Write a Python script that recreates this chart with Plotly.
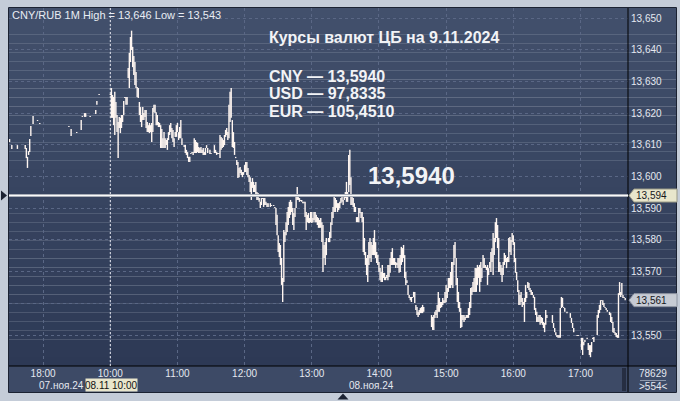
import plotly.graph_objects as go

# ---------------- data ----------------
instrument = "CNY/RUB"
timeframe = "1M"
high_of_period = 13.646
low_of_period = 13.543

cb_date = "9.11.2024"
cb_codes = ["CNY", "USD", "EUR"]
cb_rates = [13.5940, 97.8335, 105.4510]

last_price = 13.561
counter_top = "78629"
counter_bottom = ">554<"

day1_label = "07.ноя.24"
day2_label = "08.ноя.24"
cursor_label = "08.11 10:00"

# session of 07.11 shown: 17:30-19:00, session of 08.11: 10:00-
day1_start = "17:30"
day1_end = "19:00"
day2_start = "10:00"

day1_times = ["17:30", "17:32", "17:37", "17:44", "17:45", "17:46", "17:47", "17:48", "17:49", "17:51",
              "17:55", "17:57", "18:23", "18:25", "18:30", "18:34", "18:35", "18:37", "18:38", "18:42",
              "18:47", "18:48", "18:50"]
day1_high = [13.6118, 13.6099, 13.6099, 13.6099, 13.6090, 13.6062, 13.6080, 13.6118, 13.6159, 13.6191,
             13.6178, 13.6169, 13.6159, 13.6150, 13.6140, 13.6178, 13.6191, 13.6200, 13.6200, 13.6191,
             13.6210, 13.6238, 13.6260]
day1_low = [13.6109, 13.6087, 13.6087, 13.6087, 13.6058, 13.6027, 13.6068, 13.6077, 13.6128, 13.6166,
            13.6175, 13.6166, 13.6156, 13.6128, 13.6137, 13.6147, 13.6188, 13.6188, 13.6188, 13.6188,
            13.6197, 13.6226, 13.6257]

day2_times = [
    # 10:00 - 10:59
    "10:00", "10:01", "10:02", "10:03", "10:04", "10:05", "10:06", "10:07", "10:08", "10:09",
    "10:10", "10:11", "10:12", "10:13", "10:14", "10:15", "10:16", "10:17", "10:18", "10:19",
    "10:20", "10:21", "10:22", "10:23", "10:24", "10:25", "10:26", "10:27", "10:28", "10:29",
    "10:30", "10:31", "10:32", "10:33", "10:34", "10:35", "10:36", "10:37", "10:38", "10:39",
    "10:40", "10:41", "10:42", "10:43", "10:44", "10:45", "10:46", "10:47", "10:48", "10:49",
    "10:50", "10:51", "10:52", "10:53", "10:54", "10:55", "10:56", "10:57", "10:58", "10:59",
    # 11:00 - 11:59
    "11:00", "11:01", "11:02", "11:03", "11:04", "11:06", "11:07", "11:08", "11:09", "11:10",
    "11:11", "11:12", "11:13", "11:14", "11:15", "11:16", "11:17", "11:18", "11:19", "11:20",
    "11:21", "11:22", "11:23", "11:24", "11:25", "11:26", "11:27", "11:29", "11:30", "11:33",
    "11:34", "11:35", "11:36", "11:37", "11:38", "11:39", "11:40", "11:41", "11:42", "11:43",
    "11:44", "11:45", "11:46", "11:47", "11:48", "11:49", "11:50", "11:51", "11:52", "11:53",
    "11:54", "11:55", "11:56", "11:57", "11:58", "11:59",
    # 12:00 - 12:59
    "12:00", "12:01", "12:02", "12:03", "12:04", "12:05", "12:06", "12:07", "12:08", "12:09",
    "12:10", "12:11", "12:12", "12:13", "12:14", "12:15", "12:16", "12:17", "12:18", "12:19",
    "12:20", "12:21", "12:23", "12:24", "12:26", "12:27", "12:28", "12:29", "12:30", "12:31",
    "12:32", "12:33", "12:34", "12:35", "12:36", "12:37", "12:38", "12:39", "12:40", "12:41",
    "12:42", "12:43", "12:44", "12:45", "12:46", "12:47", "12:48", "12:49", "12:50", "12:51",
    "12:52", "12:53", "12:54", "12:55", "12:56", "12:57", "12:58", "12:59",
    # 13:00 - 13:59
    "13:00", "13:01", "13:02", "13:03", "13:04", "13:05", "13:06", "13:07", "13:08", "13:09",
    "13:10", "13:11", "13:12", "13:13", "13:15", "13:16", "13:17", "13:18", "13:19", "13:20",
    "13:21", "13:22", "13:23", "13:24", "13:25", "13:26", "13:27", "13:28", "13:29", "13:30",
    "13:31", "13:32", "13:33", "13:34", "13:35", "13:36", "13:37", "13:38", "13:39", "13:40",
    "13:41", "13:42", "13:43", "13:44", "13:45", "13:46", "13:47", "13:48", "13:49", "13:50",
    "13:51", "13:52", "13:53", "13:54", "13:55", "13:56", "13:57", "13:58", "13:59",
    # 14:00 - 14:59
    "14:00", "14:01", "14:02", "14:03", "14:04", "14:05", "14:06", "14:07", "14:08", "14:09",
    "14:10", "14:11", "14:12", "14:13", "14:14", "14:15", "14:16", "14:17", "14:18", "14:19",
    "14:20", "14:21", "14:22", "14:23", "14:24", "14:25", "14:26", "14:27", "14:28", "14:29",
    "14:30", "14:31", "14:32", "14:33", "14:34", "14:35", "14:36", "14:37", "14:38", "14:39",
    "14:40", "14:47", "14:48", "14:49", "14:50", "14:51", "14:52", "14:53", "14:54", "14:55",
    "14:56", "14:57", "14:58", "14:59",
    # 15:00 - 15:59
    "15:00", "15:01", "15:02", "15:03", "15:04", "15:05", "15:06", "15:07", "15:08", "15:09",
    "15:10", "15:11", "15:12", "15:13", "15:14", "15:15", "15:16", "15:17", "15:18", "15:19",
    "15:20", "15:21", "15:22", "15:23", "15:24", "15:25", "15:26", "15:27", "15:28", "15:29",
    "15:30", "15:31", "15:32", "15:33", "15:34", "15:35", "15:36", "15:37", "15:38", "15:39",
    "15:40", "15:41", "15:42", "15:43", "15:44", "15:45", "15:46", "15:47", "15:48", "15:49",
    "15:50", "15:51", "15:52", "15:53", "15:54", "15:55", "15:56", "15:57", "15:58", "15:59",
    # 16:00 - 16:59
    "16:00", "16:01", "16:02", "16:03", "16:04", "16:05", "16:06", "16:07", "16:08", "16:09",
    "16:10", "16:11", "16:12", "16:13", "16:14", "16:15", "16:16", "16:17", "16:18", "16:19",
    "16:20", "16:21", "16:22", "16:23", "16:24", "16:25", "16:26", "16:27", "16:28", "16:29",
    "16:30", "16:35", "16:36", "16:37", "16:38", "16:39", "16:40", "16:41", "16:42", "16:43",
    "16:44", "16:45", "16:46", "16:48", "16:51", "16:52", "16:53", "16:54", "16:57", "16:58",
    # 17:00 - 17:40
    "17:01", "17:02", "17:03", "17:04", "17:06", "17:07", "17:08", "17:09", "17:10", "17:11",
    "17:12", "17:15", "17:16", "17:17", "17:18", "17:19", "17:20", "17:21", "17:22", "17:23",
    "17:24", "17:26", "17:27", "17:28", "17:29", "17:30", "17:31", "17:32", "17:33", "17:34",
    "17:35", "17:36", "17:37", "17:38", "17:39", "17:40",
]
day2_high = [
    13.6260, 13.6279, 13.6257, 13.6251, 13.6267, 13.6235, 13.6194, 13.6172, 13.6188, 13.6185,
    13.6194, 13.6194, 13.6238, 13.6251, 13.6251, 13.6251, 13.6342, 13.6390, 13.6440, 13.6460,
    13.6409, 13.6380, 13.6361, 13.6330, 13.6282, 13.6279, 13.6235, 13.6219, 13.6194, 13.6219,
    13.6200, 13.6210, 13.6210, 13.6172, 13.6162, 13.6169, 13.6162, 13.6169, 13.6216, 13.6226,
    13.6226, 13.6203, 13.6194, 13.6172, 13.6169, 13.6162, 13.6150, 13.6121, 13.6140, 13.6121,
    13.6115, 13.6121, 13.6140, 13.6162, 13.6169, 13.6153, 13.6147, 13.6121, 13.6140, 13.6162,
    # 11
    13.6169, 13.6140, 13.6156, 13.6178, 13.6121, 13.6099, 13.6099, 13.6084, 13.6077, 13.6062,
    13.6062, 13.6074, 13.6077, 13.6077, 13.6121, 13.6115, 13.6109, 13.6106, 13.6093, 13.6090,
    13.6093, 13.6084, 13.6090, 13.6077, 13.6090, 13.6099, 13.6090, 13.6084, 13.6074, 13.6099,
    13.6084, 13.6077, 13.6074, 13.6074, 13.6131, 13.6125, 13.6121, 13.6115, 13.6131, 13.6147,
    13.6153, 13.6140, 13.6226, 13.6267, 13.6279, 13.6178, 13.6140, 13.6109, 13.6062, 13.6052,
    13.6046, 13.6027, 13.6030, 13.6021, 13.6014, 13.6014,
    # 12
    13.6036, 13.6046, 13.6046, 13.6027, 13.6005, 13.5998, 13.5983, 13.5995, 13.5983, 13.5973,
    13.5983, 13.5951, 13.5948, 13.5932, 13.5920, 13.5932, 13.5932, 13.5932, 13.5932, 13.5920,
    13.5916, 13.5916, 13.5916, 13.5910, 13.5910, 13.5904, 13.5901, 13.5879, 13.5815, 13.5790,
    13.5784, 13.5743, 13.5680, 13.5831, 13.5825, 13.5856, 13.5888, 13.5904, 13.5920, 13.5926,
    13.5920, 13.5901, 13.5885, 13.5901, 13.5942, 13.5967, 13.5935, 13.5932, 13.5926, 13.5926,
    13.5920, 13.5920, 13.5920, 13.5888, 13.5879, 13.5885, 13.5869, 13.5888,
    # 13
    13.5888, 13.5869, 13.5888, 13.5888, 13.5879, 13.5872, 13.5869, 13.5863, 13.5869, 13.5856,
    13.5847, 13.5784, 13.5793, 13.5806, 13.5806, 13.5825, 13.5856, 13.5888, 13.5904, 13.5935,
    13.5932, 13.5926, 13.5916, 13.5916, 13.5920, 13.5932, 13.5935, 13.5926, 13.5935, 13.5951,
    13.5983, 13.5951, 13.6068, 13.6084, 13.5998, 13.5942, 13.5932, 13.5916, 13.5904, 13.5872,
    13.5872, 13.5901, 13.5901, 13.5888, 13.5888, 13.5872, 13.5806, 13.5762, 13.5743, 13.5752,
    13.5793, 13.5806, 13.5793, 13.5784, 13.5806, 13.5831, 13.5793, 13.5762, 13.5752,
    # 14
    13.5730, 13.5711, 13.5699, 13.5721, 13.5696, 13.5696, 13.5683, 13.5689, 13.5721, 13.5721,
    13.5743, 13.5762, 13.5774, 13.5743, 13.5743, 13.5730, 13.5727, 13.5743, 13.5743, 13.5752,
    13.5778, 13.5774, 13.5784, 13.5752, 13.5699, 13.5673, 13.5658, 13.5626, 13.5620, 13.5620,
    13.5620, 13.5636, 13.5636, 13.5595, 13.5588, 13.5573, 13.5579, 13.5585, 13.5588, 13.5595,
    13.5588, 13.5563, 13.5557, 13.5563, 13.5573, 13.5579, 13.5595, 13.5636, 13.5617, 13.5604,
    13.5604, 13.5617, 13.5610, 13.5636,
    # 15
    13.5658, 13.5648, 13.5680, 13.5680, 13.5699, 13.5730, 13.5730, 13.5784, 13.5793, 13.5743,
    13.5680, 13.5636, 13.5604, 13.5585, 13.5563, 13.5563, 13.5563, 13.5557, 13.5563, 13.5563,
    13.5585, 13.5604, 13.5648, 13.5651, 13.5667, 13.5680, 13.5711, 13.5711, 13.5721, 13.5715,
    13.5721, 13.5730, 13.5711, 13.5752, 13.5743, 13.5721, 13.5715, 13.5721, 13.5711, 13.5730,
    13.5762, 13.5774, 13.5822, 13.5806, 13.5856, 13.5869, 13.5847, 13.5806, 13.5730, 13.5721,
    13.5711, 13.5730, 13.5759, 13.5752, 13.5743, 13.5746, 13.5806, 13.5809, 13.5800, 13.5822,
    # 16
    13.5815, 13.5793, 13.5743, 13.5699, 13.5673, 13.5642, 13.5626, 13.5636, 13.5617, 13.5604,
    13.5617, 13.5658, 13.5636, 13.5667, 13.5664, 13.5648, 13.5642, 13.5636, 13.5626, 13.5620,
    13.5585, 13.5573, 13.5557, 13.5563, 13.5563, 13.5557, 13.5554, 13.5541, 13.5538, 13.5579,
    13.5563, 13.5563, 13.5538, 13.5522, 13.5509, 13.5500, 13.5500, 13.5500, 13.5585, 13.5620,
    13.5617, 13.5588, 13.5585, 13.5573, 13.5569, 13.5554, 13.5538, 13.5522, 13.5500, 13.5500,
    # 17
    13.5491, 13.5491, 13.5478, 13.5484, 13.5491, 13.5475, 13.5468, 13.5468, 13.5478, 13.5491,
    13.5494, 13.5563, 13.5579, 13.5595, 13.5610, 13.5610, 13.5610, 13.5601, 13.5588, 13.5585,
    13.5579, 13.5573, 13.5569, 13.5557, 13.5541, 13.5522, 13.5509, 13.5506, 13.5500, 13.5632,
    13.5667, 13.5636, 13.5664, 13.5626, 13.5620, 13.5617,
]
day2_low = [
    13.6257, 13.6185, 13.6185, 13.6162, 13.6131, 13.6185, 13.6140, 13.6058, 13.6153, 13.6137,
    13.6153, 13.6172, 13.6194, 13.6248, 13.6226, 13.6226, 13.6311, 13.6279, 13.6361, 13.6399,
    13.6345, 13.6320, 13.6289, 13.6279, 13.6251, 13.6248, 13.6194, 13.6172, 13.6156, 13.6178,
    13.6178, 13.6188, 13.6153, 13.6140, 13.6140, 13.6137, 13.6140, 13.6109, 13.6140, 13.6203,
    13.6200, 13.6162, 13.6162, 13.6156, 13.6156, 13.6090, 13.6090, 13.6090, 13.6090, 13.6090,
    13.6099, 13.6084, 13.6115, 13.6131, 13.6140, 13.6121, 13.6109, 13.6093, 13.6125, 13.6125,
    # 11
    13.6140, 13.6115, 13.6121, 13.6121, 13.6099, 13.6093, 13.6074, 13.6068, 13.6058, 13.6046,
    13.6046, 13.6071, 13.6074, 13.6068, 13.6074, 13.6074, 13.6074, 13.6077, 13.6074, 13.6074,
    13.6074, 13.6074, 13.6068, 13.6068, 13.6068, 13.6090, 13.6074, 13.6071, 13.6071, 13.6074,
    13.6074, 13.6068, 13.6071, 13.6071, 13.6058, 13.6084, 13.6090, 13.6093, 13.6099, 13.6125,
    13.6131, 13.6115, 13.6121, 13.6172, 13.6185, 13.6093, 13.6090, 13.6068, 13.6058, 13.6036,
    13.5995, 13.5998, 13.6011, 13.6005, 13.5998, 13.6005,
    # 12
    13.6014, 13.6014, 13.6005, 13.5998, 13.5983, 13.5951, 13.5926, 13.5964, 13.5951, 13.5951,
    13.5942, 13.5926, 13.5926, 13.5920, 13.5901, 13.5910, 13.5929, 13.5904, 13.5910, 13.5910,
    13.5904, 13.5904, 13.5904, 13.5907, 13.5907, 13.5901, 13.5847, 13.5815, 13.5762, 13.5746,
    13.5721, 13.5658, 13.5604, 13.5667, 13.5793, 13.5815, 13.5825, 13.5847, 13.5869, 13.5879,
    13.5888, 13.5847, 13.5831, 13.5872, 13.5901, 13.5926, 13.5926, 13.5920, 13.5923, 13.5920,
    13.5916, 13.5916, 13.5872, 13.5831, 13.5856, 13.5853, 13.5853, 13.5856,
    # 13
    13.5853, 13.5856, 13.5863, 13.5856, 13.5856, 13.5847, 13.5838, 13.5838, 13.5838, 13.5793,
    13.5699, 13.5743, 13.5721, 13.5752, 13.5793, 13.5793, 13.5806, 13.5847, 13.5869, 13.5888,
    13.5888, 13.5901, 13.5888, 13.5894, 13.5901, 13.5916, 13.5920, 13.5910, 13.5926, 13.5932,
    13.5920, 13.5920, 13.5951, 13.5973, 13.5910, 13.5910, 13.5904, 13.5888, 13.5888, 13.5856,
    13.5856, 13.5856, 13.5885, 13.5869, 13.5856, 13.5762, 13.5752, 13.5721, 13.5689, 13.5667,
    13.5721, 13.5743, 13.5730, 13.5752, 13.5752, 13.5752, 13.5743, 13.5727, 13.5721,
    # 14
    13.5699, 13.5673, 13.5667, 13.5667, 13.5680, 13.5673, 13.5673, 13.5680, 13.5673, 13.5683,
    13.5696, 13.5721, 13.5721, 13.5721, 13.5721, 13.5711, 13.5721, 13.5711, 13.5696, 13.5699,
    13.5721, 13.5730, 13.5743, 13.5680, 13.5658, 13.5664, 13.5626, 13.5617, 13.5610, 13.5604,
    13.5617, 13.5620, 13.5601, 13.5579, 13.5563, 13.5557, 13.5563, 13.5569, 13.5569, 13.5569,
    13.5573, 13.5525, 13.5516, 13.5516, 13.5554, 13.5563, 13.5554, 13.5573, 13.5573, 13.5585,
    13.5588, 13.5595, 13.5601, 13.5601,
    # 15
    13.5604, 13.5617, 13.5636, 13.5648, 13.5648, 13.5658, 13.5648, 13.5721, 13.5743, 13.5658,
    13.5604, 13.5585, 13.5573, 13.5522, 13.5525, 13.5547, 13.5541, 13.5547, 13.5554, 13.5554,
    13.5554, 13.5563, 13.5585, 13.5626, 13.5636, 13.5636, 13.5636, 13.5636, 13.5658, 13.5680,
    13.5636, 13.5667, 13.5680, 13.5711, 13.5711, 13.5711, 13.5705, 13.5658, 13.5689, 13.5711,
    13.5699, 13.5730, 13.5689, 13.5752, 13.5793, 13.5806, 13.5774, 13.5699, 13.5699, 13.5689,
    13.5667, 13.5689, 13.5721, 13.5730, 13.5711, 13.5730, 13.5730, 13.5762, 13.5752, 13.5793,
    # 16
    13.5784, 13.5730, 13.5696, 13.5673, 13.5636, 13.5595, 13.5595, 13.5604, 13.5588, 13.5595,
    13.5541, 13.5604, 13.5617, 13.5648, 13.5642, 13.5636, 13.5626, 13.5626, 13.5617, 13.5579,
    13.5563, 13.5541, 13.5541, 13.5541, 13.5532, 13.5538, 13.5532, 13.5522, 13.5509, 13.5532,
    13.5554, 13.5538, 13.5522, 13.5509, 13.5500, 13.5494, 13.5491, 13.5491, 13.5491, 13.5585,
    13.5588, 13.5585, 13.5573, 13.5569, 13.5554, 13.5538, 13.5522, 13.5509, 13.5497, 13.5497,
    # 17
    13.5453, 13.5437, 13.5468, 13.5478, 13.5487, 13.5453, 13.5437, 13.5430, 13.5446, 13.5487,
    13.5478, 13.5500, 13.5554, 13.5569, 13.5579, 13.5607, 13.5595, 13.5588, 13.5585, 13.5579,
    13.5573, 13.5563, 13.5541, 13.5538, 13.5509, 13.5506, 13.5500, 13.5494, 13.5491, 13.5491,
    13.5626, 13.5620, 13.5626, 13.5617, 13.5617, 13.5610,
]

y_ticks = [13.55, 13.56, 13.57, 13.58, 13.59, 13.60, 13.61, 13.62, 13.63, 13.64, 13.65]
x_tick_days = [1, 2, 2, 2, 2, 2, 2, 2, 2]
x_tick_times = ["18:00", "10:00", "11:00", "12:00", "13:00", "14:00", "15:00", "16:00", "17:00"]

# ---------------- helpers ----------------
def minutes(hhmm):
    h, m = hhmm.split(":")
    return int(h) * 60 + int(m)

DAY1_LEN = minutes(day1_end) - minutes(day1_start)


def session_index(day, hhmm):
    if day == 1:
        return minutes(hhmm) - minutes(day1_start)
    return DAY1_LEN + minutes(hhmm) - minutes(day2_start)


def ru(v, nd):
    return f"{v:.{nd}f}".replace(".", ",")


assert len(day1_times) == len(day1_high) == len(day1_low)
assert len(day2_times) == len(day2_high) == len(day2_low), (len(day2_times), len(day2_high), len(day2_low))

xs, ys = [], []
for day, times, highs, lows in ((1, day1_times, day1_high, day1_low),
                                (2, day2_times, day2_high, day2_low)):
    for t, h, l in zip(times, highs, lows):
        i = session_index(day, t)
        xs += [i, i, None]
        ys += [h, l, None]

# ---------------- layout geometry (pixels of the 680x401 canvas) ----------------
W, H = 680, 401
L, R, T, B = 9, 628, 8, 366          # plot area edges
PW, PH = R - L, B - T


def px(x):
    return (x - L) / PW


def py(y):
    return (B - y) / PH


Y0 = 13.65 + (18 - T) / 3170.0
Y1 = 13.55 - (B - 335) / 3170.0
ypx = (Y0 - Y1) / PH                 # price per pixel

FONT = "Liberation Sans"
BAR = "#fff6f1"
TICKSZ = 10

fig = go.Figure()
fig.add_trace(go.Scatter(x=xs, y=ys, mode="lines", line=dict(color=BAR, width=1.4),
                         hoverinfo="skip", connectgaps=False, cliponaxis=True))

shapes = []
# gradient background for the plot + right scale panel
top_c = (66, 80, 108)
bot_c = (45, 57, 85)
N = 40
for k in range(N):
    f = (k + 0.5) / N
    c = tuple(round(top_c[j] + (bot_c[j] - top_c[j]) * f) for j in range(3))
    shapes.append(dict(type="rect", xref="paper", yref="paper", layer="below",
                       x0=px(L), x1=px(676), y0=1 - (k + 1) / N, y1=1 - k / N,
                       line=dict(width=0), fillcolor="rgb(%d,%d,%d)" % c))
# bottom time panel
shapes.append(dict(type="rect", xref="paper", yref="paper", layer="below",
                   x0=px(L), x1=px(676), y0=py(392), y1=py(B),
                   line=dict(width=0), fillcolor="#3d4a66"))
# dark scroll strip
shapes.append(dict(type="rect", xref="paper", yref="paper", layer="above",
                   x0=px(622), x1=px(626), y0=py(391), y1=py(368),
                   line=dict(width=0), fillcolor="#262e42"))
# separator lines
shapes.append(dict(type="line", xref="paper", yref="paper", layer="above",
                   x0=px(R), x1=px(R), y0=py(392), y1=py(T), line=dict(color="#000000", width=1)))
shapes.append(dict(type="line", xref="paper", yref="paper", layer="above",
                   x0=px(L), x1=px(676), y0=py(B), y1=py(B), line=dict(color="#000000", width=1)))
# outer frame
shapes.append(dict(type="rect", xref="paper", yref="paper", layer="above",
                   x0=px(8.5), x1=px(676.5), y0=py(392.5), y1=py(7.5),
                   line=dict(color="#1b2232", width=1)))
# day separator (start of 08.11 session)
sep_x = session_index(2, day2_start)
shapes.append(dict(type="line", xref="x", yref="paper", layer="above",
                   x0=sep_x, x1=sep_x, y0=0, y1=1,
                   line=dict(color="#e6e8ee", width=1, dash="2px,2px")))
# CB rate line
cny = cb_rates[0]
shapes.append(dict(type="line", xref="paper", yref="y", layer="above",
                   x0=0, x1=1, y0=cny, y1=cny, line=dict(color="#a9aeb8", width=3)))
shapes.append(dict(type="line", xref="paper", yref="y", layer="above",
                   x0=0, x1=1, y0=cny, y1=cny, line=dict(color="#fbfbfb", width=1)))


def tag_path(value):
    h = 6.5 * ypx
    return ("M %f,%f L %f,%f L %f,%f L %f,%f L %f,%f Z" %
            (px(629), value, px(634), value + h, px(677), value + h,
             px(677), value - h, px(634), value - h))


shapes.append(dict(type="path", xref="paper", yref="y", layer="above", path=tag_path(cny),
                   fillcolor="#e8e6cc", line=dict(color="#9a9a88", width=1)))
shapes.append(dict(type="path", xref="paper", yref="y", layer="above", path=tag_path(last_price),
                   fillcolor="#c6cbd4", line=dict(color="#8d94a2", width=1)))
# left marker of the rate line
shapes.append(dict(type="path", xref="paper", yref="y", layer="above",
                   path="M %f,%f L %f,%f L %f,%f Z" % (px(1), cny + 5 * ypx, px(7), cny, px(1), cny - 5 * ypx),
                   fillcolor="#1b2232", line=dict(width=0)))
# bottom marker
shapes.append(dict(type="path", xref="paper", yref="paper", layer="above",
                   path="M %f,%f L %f,%f L %f,%f Z" % (px(337.5), py(399.5), px(343), py(393.5), px(348.5), py(399.5)),
                   fillcolor="#1b2232", line=dict(width=0)))
# cursor time box
shapes.append(dict(type="rect", xref="paper", yref="paper", layer="above",
                   x0=px(85.5), x1=px(137.5), y0=py(391.5), y1=py(378.5),
                   fillcolor="#e9e6cc", line=dict(width=0)))
# counter separator
shapes.append(dict(type="line", xref="paper", yref="paper", layer="above",
                   x0=px(640), x1=px(666), y0=py(380.5), y1=py(380.5),
                   line=dict(color="#8e98ac", width=1)))

ann = []
WHITE = "#f2f3f6"
ann.append(dict(xref="paper", yref="paper", x=px(10), y=py(15), xanchor="left", yanchor="middle",
                text=f"{instrument} {timeframe} High = {ru(high_of_period, 3)} Low = {ru(low_of_period, 3)}",
                showarrow=False, font=dict(family=FONT, size=11, color="#e8ecf3")))
ann.append(dict(xref="paper", yref="paper", x=px(267), y=py(38), xanchor="left", yanchor="middle",
                text=f"<b>Курсы валют ЦБ на {cb_date}</b>", showarrow=False,
                font=dict(family=FONT, size=16, color=WHITE)))
for k, (code, rate) in enumerate(zip(cb_codes, cb_rates)):
    ann.append(dict(xref="paper", yref="paper", x=px(267), y=py(76 + 17.5 * k), xanchor="left",
                    yanchor="middle", text=f"<b>{code} — {ru(rate, 4)}</b>", showarrow=False,
                    font=dict(family=FONT, size=16, color=WHITE)))
ann.append(dict(xref="paper", yref="paper", x=px(366), y=py(176), xanchor="left", yanchor="middle",
                text=f"<b>{ru(cny, 4)}</b>", showarrow=False,
                font=dict(family=FONT, size=24, color=WHITE)))
ann.append(dict(xref="paper", yref="y", x=px(634), y=cny, xanchor="left", yanchor="middle",
                text=ru(cny, 3), showarrow=False, font=dict(family=FONT, size=TICKSZ, color="#15171c")))
ann.append(dict(xref="paper", yref="y", x=px(634), y=last_price, xanchor="left", yanchor="middle",
                text=ru(last_price, 3), showarrow=False, font=dict(family=FONT, size=TICKSZ, color="#15171c")))
ann.append(dict(xref="paper", yref="paper", x=px(61.5), y=py(385.5), xanchor="center", yanchor="middle",
                text=day1_label, showarrow=False, font=dict(family=FONT, size=TICKSZ, color="#e4e8f0")))
ann.append(dict(xref="paper", yref="paper", x=px(371), y=py(385.5), xanchor="center", yanchor="middle",
                text=day2_label, showarrow=False, font=dict(family=FONT, size=TICKSZ, color="#e4e8f0")))
ann.append(dict(xref="paper", yref="paper", x=px(111.5), y=py(385), xanchor="center", yanchor="middle",
                text=cursor_label, showarrow=False, font=dict(family=FONT, size=TICKSZ, color="#111111")))
ann.append(dict(xref="paper", yref="paper", x=px(653), y=py(373.5), xanchor="center", yanchor="middle",
                text=counter_top, showarrow=False, font=dict(family=FONT, size=TICKSZ, color="#e4e8f0")))
ann.append(dict(xref="paper", yref="paper", x=px(653), y=py(386.5), xanchor="center", yanchor="middle",
                text=counter_bottom, showarrow=False, font=dict(family=FONT, size=TICKSZ, color="#e4e8f0")))

GRID = "#5a6785"
fig.update_layout(
    width=W, height=H,
    margin=dict(l=L, r=W - R, t=T, b=H - B),
    paper_bgcolor="#c4ccd8",
    plot_bgcolor="rgba(0,0,0,0)",
    showlegend=False,
    shapes=shapes,
    annotations=ann,
    font=dict(family=FONT, size=TICKSZ, color="#e4e8f0"),
    xaxis=dict(range=[-0.5, 552.5], tickmode="array",
               tickvals=[session_index(d, t) for d, t in zip(x_tick_days, x_tick_times)],
               ticktext=x_tick_times, ticks="", showgrid=True, gridcolor=GRID, gridwidth=1,
               griddash="3px,3px", zeroline=False, showline=False,
               tickfont=dict(family=FONT, size=TICKSZ, color="#e4e8f0"), fixedrange=True),
    yaxis=dict(range=[Y1, Y0], side="right", tickmode="array", tickvals=y_ticks,
               ticktext=["" if abs(v - round(last_price, 2)) < 1e-9 else ru(v, 3) for v in y_ticks],
               ticks="", ticklabelstandoff=2, showgrid=True, gridcolor=GRID, gridwidth=1,
               griddash="3px,3px", zeroline=False, showline=False,
               tickfont=dict(family=FONT, size=TICKSZ, color="#e4e8f0"), fixedrange=True),
)

fig.write_html("out.html", config={"displayModeBar": False},
               post_script="document.body.style.margin='0';document.body.style.overflow='hidden';")
